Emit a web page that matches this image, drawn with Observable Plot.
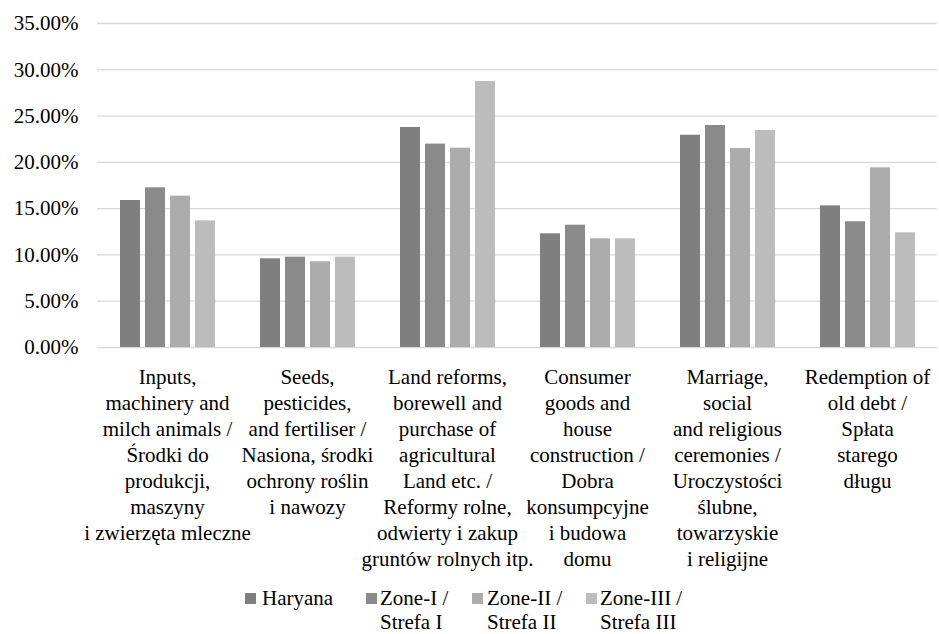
<!DOCTYPE html>
<html>
<head>
<meta charset="utf-8">
<script src="https://cdn.jsdelivr.net/npm/d3@7"></script>
<script src="https://cdn.jsdelivr.net/npm/@observablehq/plot@0.6"></script>
<style>
  html, body { margin: 0; padding: 0; background: #fff; }
  #wrap { position: relative; width: 939px; font-family: 'Liberation Serif', 'Times New Roman', Times, 'Nimbus Roman', 'Noto Serif', 'DejaVu Serif', FreeSerif, serif; color: #000; }
  #legend { position: relative; width: 939px; height: 54px; font-size: 21px; line-height: 24px; }
  .sw { position: absolute; top: 13px; width: 11px; height: 11px; }
  .lt { position: absolute; top: 6px; white-space: pre; }
</style>
</head>
<body>
<div id="wrap"><div id="chart"></div><div id="legend"></div></div>
<script>
const categories = [
  "Inputs,\nmachinery and\nmilch animals /\nŚrodki do\nprodukcji,\nmaszyny\ni zwierzęta mleczne",
  "Seeds,\npesticides,\nand fertiliser /\nNasiona, środki\nochrony roślin\ni nawozy",
  "Land reforms,\nborewell and\npurchase of\nagricultural\nLand etc. /\nReformy rolne,\nodwierty i zakup\ngruntów rolnych itp.",
  "Consumer\ngoods and\nhouse\nconstruction /\nDobra\nkonsumpcyjne\ni budowa\ndomu",
  "Marriage,\nsocial\nand religious\nceremonies /\nUroczystości\nślubne,\ntowarzyskie\ni religijne",
  "Redemption of\nold debt /\nSpłata\nstarego\ndługu"
];
const series = ["Haryana", "Zone-I / Strefa I", "Zone-II / Strefa II", "Zone-III / Strefa III"];
const legendLabels = ["Haryana", "Zone-I /\nStrefa I", "Zone-II /\nStrefa II", "Zone-III /\nStrefa III"];
const haryana = [15.88, 9.58, 23.77, 12.28, 22.93, 15.30];
const zone1   = [17.25, 9.76, 21.97, 13.21, 23.98, 13.58];
const zone2   = [16.35, 9.26, 21.53, 11.74, 21.50, 19.41];
const zone3   = [13.68, 9.76, 28.73, 11.74, 23.44, 12.39];
const yTicks = [0, 5, 10, 15, 20, 25, 30, 35];
const colors = ["#7f7f7f", "#8a8a8a", "#acacac", "#bcbcbc"];

const values = [haryana, zone1, zone2, zone3];
const data = categories.flatMap((c, i) => series.map((s, j) => ({category: c, series: s, value: values[j][i]})));
const serif = "Liberation Serif, Times New Roman, Times, Nimbus Roman, Noto Serif, DejaVu Serif, FreeSerif, serif";

const chart = Plot.plot({
  width: 939,
  height: 580,
  marginTop: 23,
  marginBottom: 233,
  marginLeft: 95,
  marginRight: 0,
  style: {fontFamily: serif, fontSize: "21px", color: "#000", background: "#fff"},
  fx: {domain: categories, paddingInner: 0, paddingOuter: 0, label: null},
  x: {domain: series, paddingInner: 0.22, paddingOuter: 0.847, axis: null},
  y: {domain: [0, 35], label: null},
  color: {domain: series, range: colors},
  marks: [
    Plot.gridY(yTicks, {stroke: "#d9d9d9", strokeOpacity: 1, strokeWidth: 1.3}),
    Plot.barY(data, {fx: "category", x: "series", y: "value", fill: "series"}),
    Plot.axisY(yTicks, {tickSize: 0, tickPadding: 19, tickFormat: d => d.toFixed(2) + "%", fontSize: 21, fontFamily: serif, label: null}),
    Plot.axisFx({anchor: "bottom", tickSize: 0, tickPadding: 18, fontSize: 21, fontFamily: serif, lineHeight: 26 / 21, label: null})
  ]
});
document.getElementById("chart").appendChild(chart);

const swLeft = [245, 366, 472, 586];
const txLeft = [262, 380, 487, 600];
const legend = document.getElementById("legend");
series.forEach((s, i) => {
  const sw = document.createElement("div");
  sw.className = "sw";
  sw.style.left = swLeft[i] + "px";
  sw.style.background = colors[i];
  legend.appendChild(sw);
  const t = document.createElement("div");
  t.className = "lt";
  t.style.left = txLeft[i] + "px";
  t.textContent = legendLabels[i];
  legend.appendChild(t);
});
</script>
</body>
</html>
